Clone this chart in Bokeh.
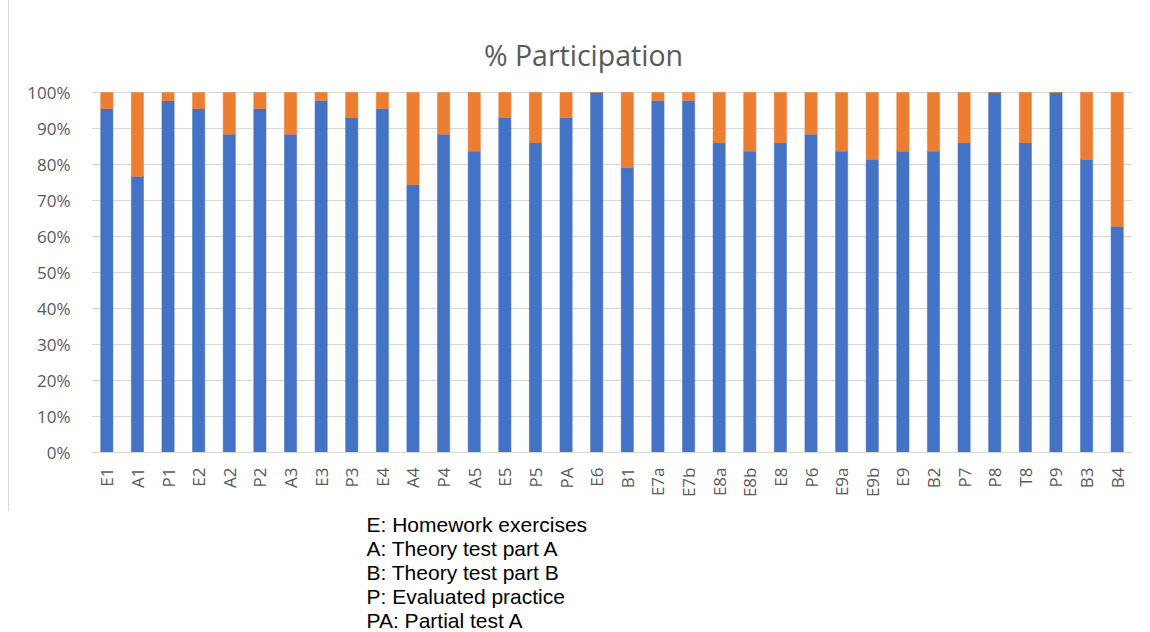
import math
from bokeh.plotting import figure
from bokeh.models import Range1d, FixedTicker, PrintfTickFormatter, Label, Title, Div
from bokeh.layouts import row
from bokeh.embed import file_html
from bokeh.resources import INLINE

# ---- data ----
categories = ["E1", "A1", "P1", "E2", "A2", "P2", "A3", "E3", "P3", "E4",
              "A4", "P4", "A5", "E5", "P5", "PA", "E6", "B1", "E7a", "E7b",
              "E8a", "E8b", "E8", "P6", "E9a", "E9b", "E9", "B2", "P7", "P8",
              "T8", "P9", "B3", "B4"]
participated = [95.5, 76.7, 97.7, 95.5, 88.4, 95.5, 88.4, 97.7, 93.0, 95.5,
                74.4, 88.4, 83.7, 93.0, 86.0, 93.0, 100.0, 79.1, 97.7, 97.7,
                86.0, 83.7, 86.0, 88.4, 83.7, 81.4, 83.7, 83.7, 86.0, 100.0,
                86.0, 100.0, 81.4, 62.8]
not_participated = [100.0 - v for v in participated]
y_ticks = [0, 10, 20, 30, 40, 50, 60, 70, 80, 90, 100]
title_text = "% Participation"
legend_lines = ["E: Homework exercises", "A: Theory test part A",
                "B: Theory test part B", "P: Evaluated practice",
                "PA: Partial test A"]

BLUE = "#4472C4"
ORANGE = "#ED7D31"
GRID = "#D9D9D9"
TXT = "#595959"

n = len(categories)
xs = list(range(n))

# geometry in page pixels
PAGE_W, PAGE_H = 1150, 632
BORDER_X = 8                       # thin grey left border of the chart box
FIG_X = BORDER_X + 1               # figure starts right after the border
FRAME_W = 1041
PX_PER_PCT = 3.6
TOP_PX, BOTTOM_PX, LEFT_PX = 20, 452, 91
y_top = (BOTTOM_PX - TOP_PX) / PX_PER_PCT
fig_w = PAGE_W - FIG_X

p = figure(width=fig_w, height=PAGE_H, output_backend="svg", toolbar_location=None,
           x_range=Range1d(-0.5, n - 0.5), y_range=Range1d(0, y_top),
           min_border_left=LEFT_PX - FIG_X,
           min_border_right=fig_w - (LEFT_PX - FIG_X) - FRAME_W,
           min_border_top=TOP_PX, min_border_bottom=PAGE_H - BOTTOM_PX)
p.outline_line_color = None
p.background_fill_color = "white"
p.border_fill_color = "white"

p.vbar(x=xs, bottom=0, top=participated, width=0.4, fill_color=BLUE,
       line_color=BLUE, line_width=0.5)
p.vbar(x=xs, bottom=participated,
       top=[a + b for a, b in zip(participated, not_participated)],
       width=0.4, fill_color=ORANGE, line_color=ORANGE, line_width=0.5)

# axes
p.yaxis.ticker = FixedTicker(ticks=y_ticks)
p.yaxis.formatter = PrintfTickFormatter(format="%d%%")
p.yaxis.axis_line_color = None
p.yaxis.major_tick_line_color = None
p.yaxis.minor_tick_line_color = None
p.yaxis.major_tick_out = 0
p.yaxis.major_tick_in = 0
p.yaxis.major_label_standoff = 21
p.yaxis.major_label_text_font = "Open Sans"
p.yaxis.major_label_text_font_size = "17px"
p.yaxis.major_label_text_color = TXT

p.xaxis.ticker = FixedTicker(ticks=xs)
p.xaxis.major_label_overrides = {i: c for i, c in enumerate(categories)}
p.xaxis.major_label_orientation = math.pi / 2
p.xaxis.axis_line_color = GRID
p.xaxis.axis_line_width = 1
p.xaxis.major_tick_line_color = None
p.xaxis.minor_tick_line_color = None
p.xaxis.major_tick_out = 0
p.xaxis.major_tick_in = 0
p.xaxis.major_label_standoff = 15
p.xaxis.major_label_text_font = "Open Sans"
p.xaxis.major_label_text_font_size = "17px"
p.xaxis.major_label_text_color = TXT

p.xgrid.grid_line_color = None
p.ygrid.grid_line_color = GRID
p.ygrid.grid_line_width = 1

def dx(px):
    return (px - LEFT_PX) / (FRAME_W / n) - 0.5
def dy(py):
    return (BOTTOM_PX - py) / PX_PER_PCT

p.add_layout(Label(x=dx(583), y=dy(54), text=title_text, text_align="center",
                   text_baseline="alphabetic", text_font="Open Sans",
                   text_font_size="28.5px", text_color=TXT))

# small blank title: vertical gap between the axis labels and the notes
p.add_layout(Title(text=" ", align="left", text_font="Liberation Sans",
                   text_font_size="8px", text_font_style="normal",
                   text_color="white", standoff=0), "below")

for line in legend_lines:
    t = Title(text=line, align="left", offset=366 - LEFT_PX,
              text_font="Liberation Sans", text_font_size="21px",
              text_font_style="normal", text_color="#000000", standoff=-1)
    p.add_layout(t, "below")

border = Div(text="", width=1, height=511, margin=(0, 0, 0, BORDER_X),
             styles={"background-color": GRID})
layout = row(border, p, spacing=0)

open("out.html", "w").write(file_html(layout, INLINE))
